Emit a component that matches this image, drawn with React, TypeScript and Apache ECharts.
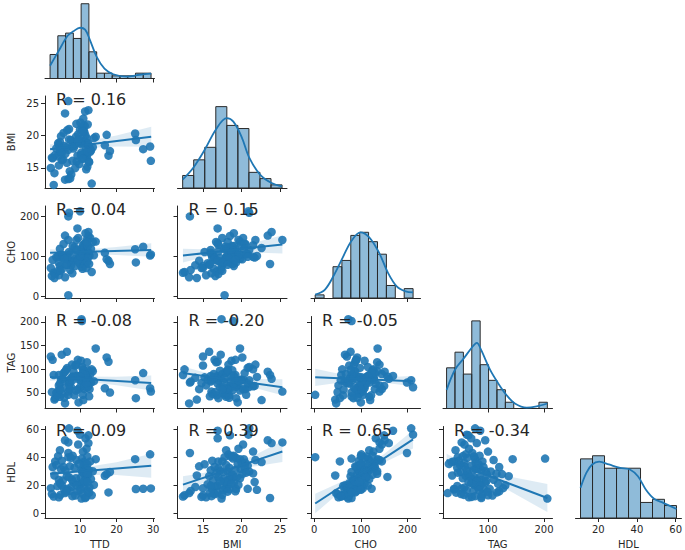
import React, { useEffect, useRef } from "react";
import * as echarts from "echarts";

// ---------------- data ----------------
const varNames = ["TTD", "BMI", "CHO", "TAG", "HDL"];

const ttd = [7.0, 10.0, 9.3, 12.3, 5.9, 12.3, 6.8, 11.5, 9.5, 6.8, 29.2, 11.8, 4.5, 10.8, 6.8, 25.1, 14.3, 10.5, 3.2, 8.0,
  11.2, 12.0, 5.0, 9.0, 10.9, 7.5, 12.8, 4.0, 11.5, 18.2, 2.5, 10.4, 11.0, 6.0, 8.5, 12.0, 4.8, 13.5, 7.2, 10.6,
  3.5, 11.8, 9.6, 12.4, 5.5, 16.8, 17.3, 11.5, 3.0, 7.8, 10.2, 11.3, 5.3, 12.2, 8.9, 6.4, 13.0, 10.8, 4.2, 11.9,
  7.0, 25.3, 27.3, 29.4, 2.0, 5.0, 8.2, 11.0, 4.5, 12.6, 9.8, 6.5, 11.6, 3.8, 10.3, 7.6, 13.8, 11.1, 5.7, 9.1,
  12.1, 17.8, 10.4, 13.2, 2.8, 5.9, 7.3, 4.2, 11.4, 10.7, 8.7, 12.0, 2.3, 6.2, 11.7, 9.4, 4.6, 10.1, 7.9, 12.5];
const bmi = [21.0, 20.9, 16.9, 18.5, 23.4, 23.9, 25.3, 16.9, 20.2, 13.3, 18.3, 19.6, 18.0, 21.5, 17.8, 20.3, 19.8, 18.9, 17.0, 19.0,
  20.5, 18.6, 16.2, 21.8, 22.6, 19.3, 17.5, 18.8, 20.0, 17.6, 16.5, 19.2, 20.8, 17.2, 18.4, 15.2, 19.9, 18.2, 14.5, 21.0,
  18.0, 17.0, 19.5, 16.0, 20.4, 18.5, 20.1, 19.0, 14.2, 18.3, 17.0, 21.5, 16.3, 18.8, 19.8, 15.8, 17.7, 20.6, 18.6, 16.7,
  19.4, 19.3, 17.9, 16.1, 15.0, 17.3, 18.0, 16.5, 19.0, 18.1, 15.6, 20.8, 17.8, 16.8, 18.7, 14.0, 19.6, 17.2, 18.4, 16.0,
  21.7, 16.9, 17.4, 12.6, 12.4, 13.2, 13.4, 15.4, 23.7, 16.4, 15.0, 17.6, 16.6, 18.2, 14.8, 19.2, 17.5, 22.0, 16.1, 15.9];
const cho = [208, 212, 169, 150, 151, 160, 140, 132, 145, 199, 101, 140, 118, 127, 2, 117, 136, 80, 55, 125,
  130, 112, 96, 140, 120, 107, 145, 100, 128, 80, 90, 118, 105, 95, 122, 110, 103, 135, 88, 115,
  97, 128, 100, 108, 130, 108, 92, 157, 45, 85, 112, 98, 102, 125, 93, 78, 118, 105, 83, 135,
  110, 84, 123, 104, 70, 66, 88, 95, 75, 100, 82, 98, 90, 62, 108, 77, 102, 86, 93, 115,
  96, 88, 73, 60, 58, 47, 65, 52, 80, 68, 75, 85, 50, 78, 70, 90, 63, 100, 57, 80];
const tag = [77, 62, 86, 65, 95, 80, 53, 70, 58, 72, 60, 66, 42, 100, 46, 77, 144, 202, 39, 85,
  58, 75, 48, 110, 35, 63, 90, 55, 78, 51, 120, 88, 70, 62, 45, 83, 78, 96, 58, 105,
  50, 82, 30, 74, 92, 60, 125, 85, 36, 110, 76, 64, 80, 98, 55, 137, 72, 46, 88, 115,
  68, 39, 92, 53, 127, 131, 95, 84, 70, 58, 78, 103, 80, 45, 118, 82, 75, 97, 40, 86,
  65, 116, 206, 100, 88, 28, 74, 66, 88, 90, 108, 62, 52, 99, 71, 120, 57, 84, 77, 43];
const hdl = [60.5, 56.0, 58.8, 55.5, 52.0, 50.0, 50.5, 53.4, 49.0, 43.0, 42.0, 46.0, 45.0, 44.0, 40.0, 38.6, 38.6, 39.0, 37.0, 41.0,
  36.0, 40.5, 37.5, 38.0, 36.5, 39.5, 37.0, 40.8, 35.8, 29.5, 33.0, 31.0, 34.0, 30.5, 32.5, 35.0, 31.5, 30.0, 33.5, 29.8,
  34.5, 32.0, 35.2, 30.8, 33.0, 26.8, 28.0, 26.0, 27.0, 24.0, 25.5, 28.5, 23.5, 27.5, 25.0, 26.5, 24.5, 29.0, 23.8, 28.2,
  25.8, 17.4, 17.6, 17.8, 18.0, 20.0, 22.0, 19.0, 21.5, 18.5, 20.8, 17.5, 22.8, 19.5, 21.0, 18.8, 20.3, 23.0, 17.2, 19.8,
  22.4, 15.0, 10.6, 13.0, 12.0, 14.5, 16.0, 11.5, 11.0, 14.0, 12.8, 16.5, 13.8, 15.5, 11.8, 15.8, 13.2, 16.8, 12.3, 14.8];

// histogram counts, [first bin edge, bin width]
const ttdCounts = [9, 16, 17, 15, 28, 10, 2, 2, 1, 1, 1, 2, 2];
const ttdBins = [1.8, 2.127];
const bmiCounts = [4, 9, 13, 26, 20, 19, 5, 3, 1];
const bmiBins = [12.36, 1.433];
const choCounts = [1, 0, 10, 12, 20, 21, 18, 14, 4, 0, 3];
const choBins = [2, 19.1];
const tagCounts = [13, 18, 11, 28, 14, 9, 6, 2, 0, 0, 0, 2];
const tagBins = [26, 15];
const hdlCounts = [19, 20, 16, 16, 16, 5, 6, 4];
const hdlBins = [10.85, 6.2];

// density curves (value, count scale)
const ttdKde = [[1.8, 4.8], [4.3, 10.7], [6.6, 16], [8.2, 17.7], [10, 19], [11.4, 18.3], [12.7, 14.5], [14.6, 8], [16.7, 3.7], [19.1, 1.6], [22.8, 0.7], [26.4, 1.4], [29.5, 1.8]];
const bmiKde = [[12.36, 2.7], [13.74, 6.5], [15.26, 12.4], [16.7, 18.8], [18.08, 22.3], [18.94, 21.2], [20.03, 16.2], [21.0, 9.7], [22.4, 4.3], [23.9, 1.6], [25.26, 0.5]];
const choKde = [[2, 1.1], [23, 2.7], [43, 7.5], [61, 12.9], [80, 18.3], [99, 21], [118, 19.4], [139, 14.5], [158, 8.1], [177, 3.7], [196, 2.1], [212, 1.8]];
const tagKde = [[26, 5.9], [41, 12.4], [57, 16.1], [73, 19.9], [80, 21], [87.5, 18.8], [103.6, 12.4], [118, 8.1], [133, 4.3], [148, 1.6], [169, 0.3], [187, 0.7], [206, 1.6]];
const hdlKde = [[10.85, 9.7], [13.85, 14.5], [16.85, 17.2], [20.5, 18.1], [25.5, 17.2], [31.35, 16.1], [36.35, 15.6], [40.5, 13.4], [44.65, 9.1], [48.85, 6.2], [53.85, 4.8], [60.45, 2.9]];

// regression lines (end points) and confidence bands [x, lower, upper]
const lineTTD_BMI = [[1.8, 17.9], [29.5, 19.8]];
const bandTTD_BMI = [[1.8, 17.15, 18.65], [6, 17.69, 18.69], [10, 18.01, 18.91], [20, 18.3, 20.0], [29.5, 18.25, 21.35]];
const lineTTD_CHO = [[1.8, 108], [29.5, 115]];
const bandTTD_CHO = [[1.8, 99, 117], [6, 103, 115], [10, 105, 115], [20, 102.5, 122.5], [29.5, 98, 132]];
const lineBMI_CHO = [[12.4, 101], [25.3, 129]];
const bandBMI_CHO = [[12.4, 84, 118], [15, 96, 117], [18.2, 106.5, 120.5], [21.5, 109, 132.5], [25.3, 106, 152]];
const lineTTD_TAG = [[1.8, 84], [29.5, 71]];
const bandTTD_TAG = [[1.8, 76, 92], [6, 77, 87], [10, 75.7, 84.7], [20, 66.5, 84.5], [29.5, 55, 87]];
const lineBMI_TAG = [[12.4, 92], [25.3, 62]];
const bandBMI_TAG = [[12.4, 78, 106], [15, 77.5, 94.5], [18.2, 72.5, 84.5], [21.5, 61.8, 79.8], [25.3, 45, 79]];
const lineCHO_TAG = [[2, 83], [212, 75]];
const bandCHO_TAG = [[2, 65, 101], [60, 72.8, 88.8], [105, 74.6, 83.6], [150, 71.4, 83.4], [212, 64, 86]];
const lineTTD_HDL = [[1.8, 28.2], [29.5, 33.9]];
const bandTTD_HDL = [[1.8, 24.2, 32.2], [6, 26.3, 31.9], [10, 27.4, 32.4], [20, 27.4, 36.4], [29.5, 25.4, 42.4]];
const lineBMI_HDL = [[12.4, 20.5], [25.3, 44]];
const bandBMI_HDL = [[12.4, 14.5, 26.5], [15, 21.7, 28.7], [18.2, 28.6, 33.6], [21.5, 33.3, 40.9], [25.3, 36.5, 51.5]];
const lineCHO_HDL = [[2, 7.1], [212, 52.7]];
const bandCHO_HDL = [[2, 0.1, 14.1], [60, 16.7, 22.7], [105, 27.5, 31.5], [150, 36.2, 42.2], [212, 46.2, 59.2]];
const lineTAG_HDL = [[26, 38], [206, 11]];
const bandTAG_HDL = [[26, 33.5, 42.5], [55, 30.85, 36.45], [80, 27.4, 32.4], [130, 17.9, 26.9], [206, 1, 21]];

const rTTD_BMI = "0.16";
const rTTD_CHO = "0.04";
const rBMI_CHO = "0.15";
const rTTD_TAG = "-0.08";
const rBMI_TAG = "-0.20";
const rCHO_TAG = "-0.05";
const rTTD_HDL = "0.09";
const rBMI_HDL = "0.39";
const rCHO_HDL = "0.65";
const rTAG_HDL = "-0.34";

const xTicks = [[10, 20, 30], [15, 20, 25], [0, 100, 200], [100, 200], [20, 40, 60]];
const yTicks = [[], [15, 20, 25], [0, 100, 200], [50, 100, 150, 200], [0, 20, 40, 60]];

// ---------------- layout ----------------
const colLeft = [45, 177.5, 311, 443, 575.5];
const colWidth = 109.5;
const rowTop = [-13.5, 96, 206, 316.5, 426.5];
const rowHeight = 92;
const xRange = [[0.41, 30.4], [11.69, 25.9], [-7, 228], [19.6, 215.2], [8.25, 63]];
const yRange = [[0, 1], [11.92, 26.08], [-5, 225], [17.2, 211.6], [-3.2, 61.8]];
const histMax = 29.4;

const BLUE = "#1f77b4";
const INK = "#262626";
const FONT = '"DejaVu Sans", sans-serif';

const columnsData = [ttd, bmi, cho, tag, hdl];
const histCounts = [ttdCounts, bmiCounts, choCounts, tagCounts, hdlCounts];
const histBins = [ttdBins, bmiBins, choBins, tagBins, hdlBins];
const kdes = [ttdKde, bmiKde, choKde, tagKde, hdlKde];

const panels: any[] = [
  { x: 0, y: 1, line: lineTTD_BMI, band: bandTTD_BMI, r: rTTD_BMI },
  { x: 0, y: 2, line: lineTTD_CHO, band: bandTTD_CHO, r: rTTD_CHO },
  { x: 1, y: 2, line: lineBMI_CHO, band: bandBMI_CHO, r: rBMI_CHO },
  { x: 0, y: 3, line: lineTTD_TAG, band: bandTTD_TAG, r: rTTD_TAG },
  { x: 1, y: 3, line: lineBMI_TAG, band: bandBMI_TAG, r: rBMI_TAG },
  { x: 2, y: 3, line: lineCHO_TAG, band: bandCHO_TAG, r: rCHO_TAG },
  { x: 0, y: 4, line: lineTTD_HDL, band: bandTTD_HDL, r: rTTD_HDL },
  { x: 1, y: 4, line: lineBMI_HDL, band: bandBMI_HDL, r: rBMI_HDL },
  { x: 2, y: 4, line: lineCHO_HDL, band: bandCHO_HDL, r: rCHO_HDL },
  { x: 3, y: 4, line: lineTAG_HDL, band: bandTAG_HDL, r: rTAG_HDL },
];

function buildOption() {
  const grid: any[] = [];
  const xAxis: any[] = [];
  const yAxis: any[] = [];
  const series: any[] = [];
  const graphic: any[] = [];
  const lineStyle = { color: INK, width: 1 };
  const labelStyle = { fontSize: 10, color: INK, fontFamily: FONT };
  let g = 0;
  for (let i = 0; i < 5; i++) {
    for (let j = 0; j <= i; j++) {
      grid.push({ left: colLeft[j], top: rowTop[i], width: colWidth, height: rowHeight });
      const bottom = i === 4;
      xAxis.push({
        type: "value",
        gridIndex: g,
        min: xRange[j][0],
        max: xRange[j][1],
        axisLine: { show: true, onZero: false, lineStyle },
        axisTick: { show: true, length: 4, customValues: xTicks[j], lineStyle },
        axisLabel: { show: bottom, customValues: xTicks[j], margin: 6, ...labelStyle },
        splitLine: { show: false },
        name: bottom ? varNames[j] : "",
        nameLocation: "middle",
        nameGap: 21,
        nameTextStyle: labelStyle,
      });
      if (i === j) {
        yAxis.push({ type: "value", gridIndex: g, min: 0, max: histMax, show: false });
        const counts = histCounts[i];
        const [start, width] = histBins[i];
        series.push({
          type: "custom",
          xAxisIndex: g,
          yAxisIndex: g,
          silent: true,
          z: 2,
          data: counts.map((c, k) => [start + k * width, start + (k + 1) * width, c]),
          encode: { x: [0, 1], y: 2 },
          renderItem: (params: any, api: any) => {
            const c = api.value(2);
            if (!c) return null;
            const p0 = api.coord([api.value(0), c]);
            const p1 = api.coord([api.value(1), 0]);
            return {
              type: "rect",
              shape: { x: p0[0], y: p0[1], width: p1[0] - p0[0], height: p1[1] - p0[1] },
              style: { fill: "rgba(31,119,180,0.5)", stroke: "#2a2a2a", lineWidth: 1 },
            };
          },
        });
        series.push({
          type: "line",
          xAxisIndex: g,
          yAxisIndex: g,
          data: kdes[i],
          smooth: 0.35,
          showSymbol: false,
          symbol: "none",
          silent: true,
          z: 3,
          lineStyle: { color: BLUE, width: 1.8 },
        });
      } else {
        yAxis.push({
          type: "value",
          gridIndex: g,
          min: yRange[i][0],
          max: yRange[i][1],
          axisLine: { show: true, onZero: false, lineStyle },
          axisTick: { show: true, length: 4, customValues: yTicks[i], lineStyle },
          axisLabel: { show: j === 0, customValues: yTicks[i], margin: 6, ...labelStyle },
          splitLine: { show: false },
          name: j === 0 ? varNames[i] : "",
          nameLocation: "middle",
          nameRotate: 90,
          nameGap: 29,
          nameTextStyle: labelStyle,
        });
        const p = panels.find((q) => q.x === j && q.y === i);
        const xs = columnsData[j];
        const ys = columnsData[i];
        series.push({
          type: "scatter",
          xAxisIndex: g,
          yAxisIndex: g,
          silent: true,
          z: 2,
          symbolSize: 8.5,
          itemStyle: { color: BLUE, opacity: 0.9 },
          data: xs.map((v, k) => [v, ys[k]]),
        });
        const band = p.band;
        series.push({
          type: "custom",
          xAxisIndex: g,
          yAxisIndex: g,
          silent: true,
          z: 3,
          clip: true,
          data: band,
          encode: { x: 0, y: [1, 2] },
          renderItem: (params: any, api: any) => {
            if (params.dataIndex !== 0) return null;
            const upper = band.map((b: number[]) => api.coord([b[0], b[2]]));
            const lower = band.slice().reverse().map((b: number[]) => api.coord([b[0], b[1]]));
            return {
              type: "polygon",
              shape: { points: upper.concat(lower) },
              style: { fill: "rgba(31,119,180,0.15)" },
            };
          },
        });
        series.push({
          type: "line",
          xAxisIndex: g,
          yAxisIndex: g,
          data: p.line,
          showSymbol: false,
          symbol: "none",
          silent: true,
          z: 4,
          lineStyle: { color: BLUE, width: 2 },
        });
        graphic.push({
          type: "text",
          x: colLeft[j] + 0.1 * colWidth,
          y: rowTop[i] + 0.1 * rowHeight - 5.6,
          z: 100,
          style: {
            text: "R = " + p.r,
            fontSize: 16,
            fontFamily: FONT,
            fill: INK,
            verticalAlign: "middle",
            align: "left",
          },
        });
      }
      g++;
    }
  }
  return { animation: false, backgroundColor: "#ffffff", grid, xAxis, yAxis, series, graphic };
}

export default function App() {
  const ref = useRef<HTMLDivElement>(null);
  useEffect(() => {
    if (!ref.current) return;
    const chart = echarts.init(ref.current, undefined, { renderer: "svg" });
    chart.setOption(buildOption());
    return () => chart.dispose();
  }, []);
  return (
    <div
      ref={ref}
      style={{ position: "absolute", left: 0, top: 0, width: 685, height: 550, background: "#fff" }}
    />
  );
}
